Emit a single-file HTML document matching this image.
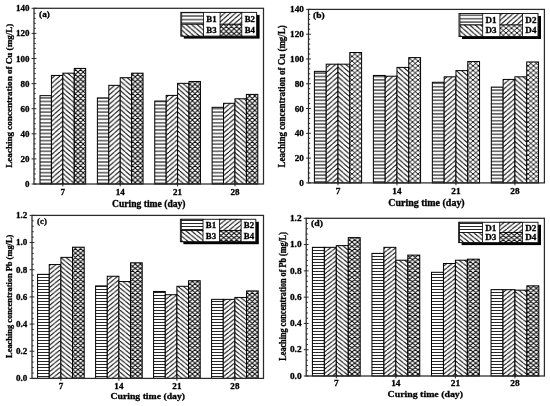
<!DOCTYPE html>
<html><head><meta charset="utf-8"><style>
html,body{margin:0;padding:0;background:#fff;width:550px;height:406px;overflow:hidden}
svg{display:block;filter:blur(0.25px)}
text{font-family:"Liberation Serif",serif;font-weight:bold;fill:#000;stroke:#000;stroke-width:0.3px}
</style></head><body>
<svg width="550" height="406" viewBox="0 0 550 406">
<defs><pattern id="p1a" width="10" height="3.56" patternUnits="userSpaceOnUse"><rect width="10" height="3.56" fill="#fff"/><line x1="0" y1="1.78" x2="10" y2="1.78" stroke="#000" stroke-width="1"/></pattern>
<pattern id="p2a" width="5.45" height="4.75" patternUnits="userSpaceOnUse"><rect width="5.45" height="4.75" fill="#fff"/><path d="M-5.45,4.75L0,0M0,4.75L5.45,0M5.45,4.75L10.9,0" stroke="#000" stroke-width="1.0"/></pattern>
<pattern id="p3a" width="5.45" height="4.75" patternUnits="userSpaceOnUse"><rect width="5.45" height="4.75" fill="#fff"/><path d="M-5.45,0L0,4.75M0,0L5.45,4.75M5.45,0L10.9,4.75" stroke="#000" stroke-width="1.0"/></pattern>
<pattern id="p4a" width="5.2" height="4.8" patternUnits="userSpaceOnUse"><rect width="5.2" height="4.8" fill="#fff"/><path d="M-5.2,4.8L0,0M0,4.8L5.2,0M5.2,4.8L10.4,0M-5.2,0L0,4.8M0,0L5.2,4.8M5.2,0L10.4,4.8" stroke="#000" stroke-width="0.9"/></pattern>
<pattern id="p1b" width="10" height="3.4" patternUnits="userSpaceOnUse"><rect width="10" height="3.4" fill="#fff"/><line x1="0" y1="1.7" x2="10" y2="1.7" stroke="#000" stroke-width="1"/></pattern>
<pattern id="p2b" width="5.45" height="4.8" patternUnits="userSpaceOnUse"><rect width="5.45" height="4.8" fill="#fff"/><path d="M-5.45,4.8L0,0M0,4.8L5.45,0M5.45,4.8L10.9,0" stroke="#000" stroke-width="1.0"/></pattern>
<pattern id="p3b" width="5.45" height="4.8" patternUnits="userSpaceOnUse"><rect width="5.45" height="4.8" fill="#fff"/><path d="M-5.45,0L0,4.8M0,0L5.45,4.8M5.45,0L10.9,4.8" stroke="#000" stroke-width="1.0"/></pattern>
<pattern id="p4b" width="5.5" height="4.7" patternUnits="userSpaceOnUse"><rect width="5.5" height="4.7" fill="#fff"/><path d="M-5.5,4.7L0,0M0,4.7L5.5,0M5.5,4.7L11.0,0M-5.5,0L0,4.7M0,0L5.5,4.7M5.5,0L11.0,4.7" stroke="#000" stroke-width="0.9"/></pattern>
<pattern id="p1c" width="10" height="3.0" patternUnits="userSpaceOnUse"><rect width="10" height="3.0" fill="#fff"/><line x1="0" y1="1.5" x2="10" y2="1.5" stroke="#000" stroke-width="0.85"/></pattern>
<pattern id="p2c" width="5.45" height="4.43" patternUnits="userSpaceOnUse"><rect width="5.45" height="4.43" fill="#fff"/><path d="M-5.45,4.43L0,0M0,4.43L5.45,0M5.45,4.43L10.9,0" stroke="#000" stroke-width="1.0"/></pattern>
<pattern id="p3c" width="5.45" height="4.43" patternUnits="userSpaceOnUse"><rect width="5.45" height="4.43" fill="#fff"/><path d="M-5.45,0L0,4.43M0,0L5.45,4.43M5.45,0L10.9,4.43" stroke="#000" stroke-width="1.0"/></pattern>
<pattern id="p4c" width="5.2" height="4.4" patternUnits="userSpaceOnUse"><rect width="5.2" height="4.4" fill="#fff"/><path d="M-5.2,4.4L0,0M0,4.4L5.2,0M5.2,4.4L10.4,0M-5.2,0L0,4.4M0,0L5.2,4.4M5.2,0L10.4,4.4" stroke="#000" stroke-width="0.9"/></pattern>
<pattern id="p1d" width="10" height="3.0" patternUnits="userSpaceOnUse"><rect width="10" height="3.0" fill="#fff"/><line x1="0" y1="1.5" x2="10" y2="1.5" stroke="#000" stroke-width="0.85"/></pattern>
<pattern id="p2d" width="5.45" height="4.32" patternUnits="userSpaceOnUse"><rect width="5.45" height="4.32" fill="#fff"/><path d="M-5.45,4.32L0,0M0,4.32L5.45,0M5.45,4.32L10.9,0" stroke="#000" stroke-width="1.0"/></pattern>
<pattern id="p3d" width="5.45" height="4.32" patternUnits="userSpaceOnUse"><rect width="5.45" height="4.32" fill="#fff"/><path d="M-5.45,0L0,4.32M0,0L5.45,4.32M5.45,0L10.9,4.32" stroke="#000" stroke-width="1.0"/></pattern>
<pattern id="p4d" width="5.5" height="4.4" patternUnits="userSpaceOnUse"><rect width="5.5" height="4.4" fill="#fff"/><path d="M-5.5,4.4L0,0M0,4.4L5.5,0M5.5,4.4L11.0,0M-5.5,0L0,4.4M0,0L5.5,4.4M5.5,0L11.0,4.4" stroke="#000" stroke-width="0.9"/></pattern></defs>
<rect width="550" height="406" fill="#fff"/>
<rect x="40" y="95.65" width="11.42" height="88.35" fill="url(#p1a)" stroke="#000" stroke-width="1.0"/>
<rect x="51.42" y="75.44" width="11.42" height="108.56" fill="url(#p2a)" stroke="#000" stroke-width="1.0"/>
<rect x="62.84" y="73.18" width="11.42" height="110.82" fill="url(#p3a)" stroke="#000" stroke-width="1.0"/>
<rect x="74.26" y="68.41" width="11.42" height="115.59" fill="url(#p4a)" stroke="#000" stroke-width="1.0"/>
<rect x="97.38" y="97.91" width="11.42" height="86.09" fill="url(#p1a)" stroke="#000" stroke-width="1.0"/>
<rect x="108.8" y="85.36" width="11.42" height="98.64" fill="url(#p2a)" stroke="#000" stroke-width="1.0"/>
<rect x="120.22" y="77.7" width="11.42" height="106.3" fill="url(#p3a)" stroke="#000" stroke-width="1.0"/>
<rect x="131.63" y="73.18" width="11.42" height="110.82" fill="url(#p4a)" stroke="#000" stroke-width="1.0"/>
<rect x="154.75" y="101.04" width="11.42" height="82.96" fill="url(#p1a)" stroke="#000" stroke-width="1.0"/>
<rect x="166.17" y="95.4" width="11.42" height="88.6" fill="url(#p2a)" stroke="#000" stroke-width="1.0"/>
<rect x="177.59" y="83.35" width="11.42" height="100.65" fill="url(#p3a)" stroke="#000" stroke-width="1.0"/>
<rect x="189.01" y="81.47" width="11.42" height="102.53" fill="url(#p4a)" stroke="#000" stroke-width="1.0"/>
<rect x="212.12" y="107.32" width="11.42" height="76.68" fill="url(#p1a)" stroke="#000" stroke-width="1.0"/>
<rect x="223.54" y="103.3" width="11.42" height="80.7" fill="url(#p2a)" stroke="#000" stroke-width="1.0"/>
<rect x="234.97" y="98.79" width="11.42" height="85.21" fill="url(#p3a)" stroke="#000" stroke-width="1.0"/>
<rect x="246.38" y="94.39" width="11.42" height="89.61" fill="url(#p4a)" stroke="#000" stroke-width="1.0"/>
<rect x="34" y="8.3" width="229.5" height="175.7" fill="none" stroke="#2a2a2a" stroke-width="1.25"/>
<text transform="translate(29.4,187) scale(1,1)" text-anchor="end" font-size="9.0">0</text>
<text transform="translate(29.4,161.9) scale(1,1)" text-anchor="end" font-size="9.0">20</text>
<text transform="translate(29.4,136.8) scale(1,1)" text-anchor="end" font-size="9.0">40</text>
<text transform="translate(29.4,111.7) scale(1,1)" text-anchor="end" font-size="9.0">60</text>
<text transform="translate(29.4,86.6) scale(1,1)" text-anchor="end" font-size="9.0">80</text>
<text transform="translate(29.4,61.5) scale(1,1)" text-anchor="end" font-size="9.0">100</text>
<text transform="translate(29.4,36.4) scale(1,1)" text-anchor="end" font-size="9.0">120</text>
<text transform="translate(29.4,11.3) scale(1,1)" text-anchor="end" font-size="9.0">140</text>
<text transform="translate(62.84,194.6) scale(1,1)" text-anchor="middle" font-size="9.0">7</text>
<text transform="translate(120.22,194.6) scale(1,1)" text-anchor="middle" font-size="9.0">14</text>
<text transform="translate(177.59,194.6) scale(1,1)" text-anchor="middle" font-size="9.0">21</text>
<text transform="translate(234.97,194.6) scale(1,1)" text-anchor="middle" font-size="9.0">28</text>
<path d="M31.6,184H36.4M34,178.98H35.7M34,173.96H35.7M34,168.94H35.7M34,163.92H35.7M31.6,158.9H36.4M34,153.88H35.7M34,148.86H35.7M34,143.84H35.7M34,138.82H35.7M31.6,133.8H36.4M34,128.78H35.7M34,123.76H35.7M34,118.74H35.7M34,113.72H35.7M31.6,108.7H36.4M34,103.68H35.7M34,98.66H35.7M34,93.64H35.7M34,88.62H35.7M31.6,83.6H36.4M34,78.58H35.7M34,73.56H35.7M34,68.54H35.7M34,63.52H35.7M31.6,58.5H36.4M34,53.48H35.7M34,48.46H35.7M34,43.44H35.7M34,38.42H35.7M31.6,33.4H36.4M34,28.38H35.7M34,23.36H35.7M34,18.34H35.7M34,13.32H35.7M31.6,8.3H36.4M62.84,181.6V186.4M120.22,181.6V186.4M177.59,181.6V186.4M234.97,181.6V186.4" stroke="#2a2a2a" stroke-width="1" fill="none"/>
<text transform="translate(148.75,207) scale(1,1)" text-anchor="middle" font-size="9.5" textLength="73.5" lengthAdjust="spacingAndGlyphs">Curing time (day)</text>
<text transform="translate(11.6,95.7) rotate(-90) scale(1,1)" text-anchor="middle" font-size="9.1" textLength="144" lengthAdjust="spacingAndGlyphs">Leaching concentration of Cu (mg/L)</text>
<text transform="translate(39.1,16.8) scale(1,1)" font-size="8.8" textLength="10.8" lengthAdjust="spacingAndGlyphs">(a)</text>
<rect x="183.8" y="14.9" width="75.8" height="23.7" fill="#000"/>
<rect x="180.8" y="12.4" width="75.8" height="23.7" fill="#fff" stroke="#222" stroke-width="1"/>
<rect x="181.71" y="12.4" width="21.83" height="11.85" fill="url(#p1a)" stroke="#000" stroke-width="0.8"/>
<text transform="translate(211.5,22.1) scale(1,1)" text-anchor="middle" font-size="8.8">B1</text>
<rect x="220.06" y="12.4" width="21.75" height="11.85" fill="url(#p2a)" stroke="#000" stroke-width="0.8"/>
<text transform="translate(249.78,22.1) scale(1,1)" text-anchor="middle" font-size="8.8">B2</text>
<rect x="181.71" y="24.25" width="21.83" height="11.85" fill="url(#p3a)" stroke="#000" stroke-width="0.8"/>
<text transform="translate(211.5,32.8) scale(1,1)" text-anchor="middle" font-size="8.8">B3</text>
<rect x="220.06" y="24.25" width="21.75" height="11.85" fill="url(#p4a)" stroke="#000" stroke-width="0.8"/>
<text transform="translate(249.78,32.8) scale(1,1)" text-anchor="middle" font-size="8.8">B4</text>
<rect x="314.4" y="71.36" width="11.8" height="111.54" fill="url(#p1b)" stroke="#000" stroke-width="1.0"/>
<rect x="326.2" y="64.18" width="11.8" height="118.72" fill="url(#p2b)" stroke="#000" stroke-width="1.0"/>
<rect x="338" y="64.18" width="11.8" height="118.72" fill="url(#p3b)" stroke="#000" stroke-width="1.0"/>
<rect x="349.8" y="52.53" width="11.8" height="130.37" fill="url(#p4b)" stroke="#000" stroke-width="1.0"/>
<rect x="373.38" y="75.45" width="11.8" height="107.45" fill="url(#p1b)" stroke="#000" stroke-width="1.0"/>
<rect x="385.18" y="76.2" width="11.8" height="106.7" fill="url(#p2b)" stroke="#000" stroke-width="1.0"/>
<rect x="396.98" y="67.4" width="11.8" height="115.5" fill="url(#p3b)" stroke="#000" stroke-width="1.0"/>
<rect x="408.77" y="57.61" width="11.8" height="125.29" fill="url(#p4b)" stroke="#000" stroke-width="1.0"/>
<rect x="432.35" y="82.27" width="11.8" height="100.63" fill="url(#p1b)" stroke="#000" stroke-width="1.0"/>
<rect x="444.15" y="76.82" width="11.8" height="106.08" fill="url(#p2b)" stroke="#000" stroke-width="1.0"/>
<rect x="455.95" y="70.62" width="11.8" height="112.28" fill="url(#p3b)" stroke="#000" stroke-width="1.0"/>
<rect x="467.75" y="61.57" width="11.8" height="121.33" fill="url(#p4b)" stroke="#000" stroke-width="1.0"/>
<rect x="491.32" y="87.1" width="11.8" height="95.8" fill="url(#p1b)" stroke="#000" stroke-width="1.0"/>
<rect x="503.12" y="79.42" width="11.8" height="103.48" fill="url(#p2b)" stroke="#000" stroke-width="1.0"/>
<rect x="514.92" y="76.82" width="11.8" height="106.08" fill="url(#p3b)" stroke="#000" stroke-width="1.0"/>
<rect x="526.72" y="61.95" width="11.8" height="120.95" fill="url(#p4b)" stroke="#000" stroke-width="1.0"/>
<rect x="308.5" y="9.4" width="235.9" height="173.5" fill="none" stroke="#2a2a2a" stroke-width="1.25"/>
<text transform="translate(303.9,185.86) scale(1.03,0.98)" text-anchor="end" font-size="9.0">0</text>
<text transform="translate(303.9,161.07) scale(1.03,0.98)" text-anchor="end" font-size="9.0">20</text>
<text transform="translate(303.9,136.28) scale(1.03,0.98)" text-anchor="end" font-size="9.0">40</text>
<text transform="translate(303.9,111.5) scale(1.03,0.98)" text-anchor="end" font-size="9.0">60</text>
<text transform="translate(303.9,86.71) scale(1.03,0.98)" text-anchor="end" font-size="9.0">80</text>
<text transform="translate(303.9,61.93) scale(1.03,0.98)" text-anchor="end" font-size="9.0">100</text>
<text transform="translate(303.9,37.14) scale(1.03,0.98)" text-anchor="end" font-size="9.0">120</text>
<text transform="translate(303.9,12.36) scale(1.03,0.98)" text-anchor="end" font-size="9.0">140</text>
<text transform="translate(338,193.5) scale(1.03,0.98)" text-anchor="middle" font-size="9.0">7</text>
<text transform="translate(396.98,193.5) scale(1.03,0.98)" text-anchor="middle" font-size="9.0">14</text>
<text transform="translate(455.95,193.5) scale(1.03,0.98)" text-anchor="middle" font-size="9.0">21</text>
<text transform="translate(514.92,193.5) scale(1.03,0.98)" text-anchor="middle" font-size="9.0">28</text>
<path d="M306.1,182.9H310.9M308.5,177.94H310.2M308.5,172.99H310.2M308.5,168.03H310.2M308.5,163.07H310.2M306.1,158.11H310.9M308.5,153.16H310.2M308.5,148.2H310.2M308.5,143.24H310.2M308.5,138.29H310.2M306.1,133.33H310.9M308.5,128.37H310.2M308.5,123.41H310.2M308.5,118.46H310.2M308.5,113.5H310.2M306.1,108.54H310.9M308.5,103.59H310.2M308.5,98.63H310.2M308.5,93.67H310.2M308.5,88.71H310.2M306.1,83.76H310.9M308.5,78.8H310.2M308.5,73.84H310.2M308.5,68.89H310.2M308.5,63.93H310.2M306.1,58.97H310.9M308.5,54.01H310.2M308.5,49.06H310.2M308.5,44.1H310.2M308.5,39.14H310.2M306.1,34.19H310.9M308.5,29.23H310.2M308.5,24.27H310.2M308.5,19.31H310.2M308.5,14.36H310.2M306.1,9.4H310.9M338,180.5V185.3M396.98,180.5V185.3M455.95,180.5V185.3M514.92,180.5V185.3" stroke="#2a2a2a" stroke-width="1" fill="none"/>
<text transform="translate(426.45,205.5) scale(1.03,0.98)" text-anchor="middle" font-size="9.5" textLength="74.22" lengthAdjust="spacingAndGlyphs">Curing time (day)</text>
<text transform="translate(285.4,96.3) rotate(-90) scale(0.98,1.03)" text-anchor="middle" font-size="9.1" textLength="145.08" lengthAdjust="spacingAndGlyphs">Leaching concentration of Cu (mg/L)</text>
<text transform="translate(313.1,18.1) scale(1.03,0.98)" font-size="8.8" textLength="11.28" lengthAdjust="spacingAndGlyphs">(b)</text>
<rect x="462" y="16" width="79" height="23" fill="#000"/>
<rect x="459" y="13.5" width="79" height="23" fill="#fff" stroke="#222" stroke-width="1"/>
<rect x="459.95" y="13.5" width="22.75" height="11.5" fill="url(#p1b)" stroke="#000" stroke-width="0.8"/>
<text transform="translate(491,22.91) scale(1.03,0.98)" text-anchor="middle" font-size="8.8">D1</text>
<rect x="499.92" y="13.5" width="22.67" height="11.5" fill="url(#p2b)" stroke="#000" stroke-width="0.8"/>
<text transform="translate(530.89,22.91) scale(1.03,0.98)" text-anchor="middle" font-size="8.8">D2</text>
<rect x="459.95" y="25" width="22.75" height="11.5" fill="url(#p3b)" stroke="#000" stroke-width="0.8"/>
<text transform="translate(491,33.3) scale(1.03,0.98)" text-anchor="middle" font-size="8.8">D3</text>
<rect x="499.92" y="25" width="22.67" height="11.5" fill="url(#p4b)" stroke="#000" stroke-width="0.8"/>
<text transform="translate(530.89,33.3) scale(1.03,0.98)" text-anchor="middle" font-size="8.8">D4</text>
<rect x="37.6" y="274.35" width="11.65" height="104.05" fill="url(#p1c)" stroke="#000" stroke-width="1.0"/>
<rect x="49.25" y="264.57" width="11.65" height="113.83" fill="url(#p2c)" stroke="#000" stroke-width="1.0"/>
<rect x="60.9" y="257.37" width="11.65" height="121.03" fill="url(#p3c)" stroke="#000" stroke-width="1.0"/>
<rect x="72.55" y="247.19" width="11.65" height="131.21" fill="url(#p4c)" stroke="#000" stroke-width="1.0"/>
<rect x="95.6" y="285.9" width="11.65" height="92.5" fill="url(#p1c)" stroke="#000" stroke-width="1.0"/>
<rect x="107.25" y="276.25" width="11.65" height="102.15" fill="url(#p2c)" stroke="#000" stroke-width="1.0"/>
<rect x="118.9" y="281.55" width="11.65" height="96.85" fill="url(#p3c)" stroke="#000" stroke-width="1.0"/>
<rect x="130.55" y="262.81" width="11.65" height="115.59" fill="url(#p4c)" stroke="#000" stroke-width="1.0"/>
<rect x="153.6" y="291.47" width="11.65" height="86.93" fill="url(#p1c)" stroke="#000" stroke-width="1.0"/>
<rect x="165.25" y="294.73" width="11.65" height="83.67" fill="url(#p2c)" stroke="#000" stroke-width="1.0"/>
<rect x="176.9" y="286.3" width="11.65" height="92.1" fill="url(#p3c)" stroke="#000" stroke-width="1.0"/>
<rect x="188.55" y="280.74" width="11.65" height="97.66" fill="url(#p4c)" stroke="#000" stroke-width="1.0"/>
<rect x="211.6" y="299.35" width="11.65" height="79.05" fill="url(#p1c)" stroke="#000" stroke-width="1.0"/>
<rect x="223.25" y="299.35" width="11.65" height="79.05" fill="url(#p2c)" stroke="#000" stroke-width="1.0"/>
<rect x="234.9" y="297.44" width="11.65" height="80.96" fill="url(#p3c)" stroke="#000" stroke-width="1.0"/>
<rect x="246.55" y="290.92" width="11.65" height="87.48" fill="url(#p4c)" stroke="#000" stroke-width="1.0"/>
<rect x="32" y="215.4" width="231.5" height="163" fill="none" stroke="#2a2a2a" stroke-width="1.25"/>
<text transform="translate(27.4,381.18) scale(1.01,0.93)" text-anchor="end" font-size="9.0">0.0</text>
<text transform="translate(27.4,354.01) scale(1.01,0.93)" text-anchor="end" font-size="9.0">0.2</text>
<text transform="translate(27.4,326.85) scale(1.01,0.93)" text-anchor="end" font-size="9.0">0.4</text>
<text transform="translate(27.4,299.68) scale(1.01,0.93)" text-anchor="end" font-size="9.0">0.6</text>
<text transform="translate(27.4,272.51) scale(1.01,0.93)" text-anchor="end" font-size="9.0">0.8</text>
<text transform="translate(27.4,245.35) scale(1.01,0.93)" text-anchor="end" font-size="9.0">1.0</text>
<text transform="translate(27.4,218.18) scale(1.01,0.93)" text-anchor="end" font-size="9.0">1.2</text>
<text transform="translate(60.9,388.7) scale(1.01,0.93)" text-anchor="middle" font-size="9.0">7</text>
<text transform="translate(118.9,388.7) scale(1.01,0.93)" text-anchor="middle" font-size="9.0">14</text>
<text transform="translate(176.9,388.7) scale(1.01,0.93)" text-anchor="middle" font-size="9.0">21</text>
<text transform="translate(234.9,388.7) scale(1.01,0.93)" text-anchor="middle" font-size="9.0">28</text>
<path d="M29.6,378.4H34.4M32,372.97H33.7M32,367.53H33.7M32,362.1H33.7M32,356.67H33.7M29.6,351.23H34.4M32,345.8H33.7M32,340.37H33.7M32,334.93H33.7M32,329.5H33.7M29.6,324.07H34.4M32,318.63H33.7M32,313.2H33.7M32,307.77H33.7M32,302.33H33.7M29.6,296.9H34.4M32,291.47H33.7M32,286.03H33.7M32,280.6H33.7M32,275.17H33.7M29.6,269.73H34.4M32,264.3H33.7M32,258.87H33.7M32,253.43H33.7M32,248H33.7M29.6,242.57H34.4M32,237.13H33.7M32,231.7H33.7M32,226.27H33.7M32,220.83H33.7M29.6,215.4H34.4M60.9,376V380.8M118.9,376V380.8M176.9,376V380.8M234.9,376V380.8" stroke="#2a2a2a" stroke-width="1" fill="none"/>
<text transform="translate(147.75,399.3) scale(1.01,0.93)" text-anchor="middle" font-size="9.5" textLength="73.93" lengthAdjust="spacingAndGlyphs">Curing time (day)</text>
<text transform="translate(11.8,296.3) rotate(-90) scale(0.93,1.01)" text-anchor="middle" font-size="9.1" textLength="132.47" lengthAdjust="spacingAndGlyphs">Leaching concentration Pb (mg/L)</text>
<text transform="translate(37.1,223.5) scale(1.01,0.93)" font-size="8.8" textLength="9.91" lengthAdjust="spacingAndGlyphs">(c)</text>
<rect x="183.4" y="221.8" width="75.4" height="22.4" fill="#000"/>
<rect x="180.4" y="219.3" width="75.4" height="22.4" fill="#fff" stroke="#222" stroke-width="1"/>
<rect x="181.3" y="219.3" width="21.72" height="11.2" fill="url(#p1c)" stroke="#000" stroke-width="0.8"/>
<text transform="translate(210.94,228.47) scale(1.01,0.93)" text-anchor="middle" font-size="8.8">B1</text>
<rect x="219.46" y="219.3" width="21.64" height="11.2" fill="url(#p2c)" stroke="#000" stroke-width="0.8"/>
<text transform="translate(249.01,228.47) scale(1.01,0.93)" text-anchor="middle" font-size="8.8">B2</text>
<rect x="181.3" y="230.5" width="21.72" height="11.2" fill="url(#p3c)" stroke="#000" stroke-width="0.8"/>
<text transform="translate(210.94,238.58) scale(1.01,0.93)" text-anchor="middle" font-size="8.8">B3</text>
<rect x="219.46" y="230.5" width="21.64" height="11.2" fill="url(#p4c)" stroke="#000" stroke-width="0.8"/>
<text transform="translate(249.01,238.58) scale(1.01,0.93)" text-anchor="middle" font-size="8.8">B4</text>
<rect x="312.4" y="247.34" width="11.95" height="128.66" fill="url(#p1d)" stroke="#000" stroke-width="1.0"/>
<rect x="324.35" y="247.34" width="11.95" height="128.66" fill="url(#p2d)" stroke="#000" stroke-width="1.0"/>
<rect x="336.3" y="245.63" width="11.95" height="130.37" fill="url(#p3d)" stroke="#000" stroke-width="1.0"/>
<rect x="348.25" y="237.62" width="11.95" height="138.38" fill="url(#p4d)" stroke="#000" stroke-width="1.0"/>
<rect x="371.95" y="253.39" width="11.95" height="122.61" fill="url(#p1d)" stroke="#000" stroke-width="1.0"/>
<rect x="383.9" y="247.34" width="11.95" height="128.66" fill="url(#p2d)" stroke="#000" stroke-width="1.0"/>
<rect x="395.85" y="260.22" width="11.95" height="115.78" fill="url(#p3d)" stroke="#000" stroke-width="1.0"/>
<rect x="407.8" y="255.1" width="11.95" height="120.9" fill="url(#p4d)" stroke="#000" stroke-width="1.0"/>
<rect x="431.5" y="272.31" width="11.95" height="103.69" fill="url(#p1d)" stroke="#000" stroke-width="1.0"/>
<rect x="443.45" y="263.51" width="11.95" height="112.49" fill="url(#p2d)" stroke="#000" stroke-width="1.0"/>
<rect x="455.4" y="260.22" width="11.95" height="115.78" fill="url(#p3d)" stroke="#000" stroke-width="1.0"/>
<rect x="467.35" y="259.17" width="11.95" height="116.83" fill="url(#p4d)" stroke="#000" stroke-width="1.0"/>
<rect x="491.05" y="289.66" width="11.95" height="86.34" fill="url(#p1d)" stroke="#000" stroke-width="1.0"/>
<rect x="503" y="289.66" width="11.95" height="86.34" fill="url(#p2d)" stroke="#000" stroke-width="1.0"/>
<rect x="514.95" y="290.18" width="11.95" height="85.82" fill="url(#p3d)" stroke="#000" stroke-width="1.0"/>
<rect x="526.9" y="285.85" width="11.95" height="90.15" fill="url(#p4d)" stroke="#000" stroke-width="1.0"/>
<rect x="306.2" y="218.3" width="238.2" height="157.7" fill="none" stroke="#2a2a2a" stroke-width="1.25"/>
<text transform="translate(301.6,378.69) scale(1.04,0.9)" text-anchor="end" font-size="9.0">0.0</text>
<text transform="translate(301.6,352.41) scale(1.04,0.9)" text-anchor="end" font-size="9.0">0.2</text>
<text transform="translate(301.6,326.13) scale(1.04,0.9)" text-anchor="end" font-size="9.0">0.4</text>
<text transform="translate(301.6,299.84) scale(1.04,0.9)" text-anchor="end" font-size="9.0">0.6</text>
<text transform="translate(301.6,273.56) scale(1.04,0.9)" text-anchor="end" font-size="9.0">0.8</text>
<text transform="translate(301.6,247.28) scale(1.04,0.9)" text-anchor="end" font-size="9.0">1.0</text>
<text transform="translate(301.6,220.99) scale(1.04,0.9)" text-anchor="end" font-size="9.0">1.2</text>
<text transform="translate(336.3,386.3) scale(1.04,0.9)" text-anchor="middle" font-size="9.0">7</text>
<text transform="translate(395.85,386.3) scale(1.04,0.9)" text-anchor="middle" font-size="9.0">14</text>
<text transform="translate(455.4,386.3) scale(1.04,0.9)" text-anchor="middle" font-size="9.0">21</text>
<text transform="translate(514.95,386.3) scale(1.04,0.9)" text-anchor="middle" font-size="9.0">28</text>
<path d="M303.8,376H308.6M306.2,370.74H307.9M306.2,365.49H307.9M306.2,360.23H307.9M306.2,354.97H307.9M303.8,349.72H308.6M306.2,344.46H307.9M306.2,339.2H307.9M306.2,333.95H307.9M306.2,328.69H307.9M303.8,323.43H308.6M306.2,318.18H307.9M306.2,312.92H307.9M306.2,307.66H307.9M306.2,302.41H307.9M303.8,297.15H308.6M306.2,291.89H307.9M306.2,286.64H307.9M306.2,281.38H307.9M306.2,276.12H307.9M303.8,270.87H308.6M306.2,265.61H307.9M306.2,260.35H307.9M306.2,255.1H307.9M306.2,249.84H307.9M303.8,244.58H308.6M306.2,239.33H307.9M306.2,234.07H307.9M306.2,228.81H307.9M306.2,223.56H307.9M303.8,218.3H308.6M336.3,373.6V378.4M395.85,373.6V378.4M455.4,373.6V378.4M514.95,373.6V378.4" stroke="#2a2a2a" stroke-width="1" fill="none"/>
<text transform="translate(425.3,396.8) scale(1.04,0.9)" text-anchor="middle" font-size="9.5" textLength="72.64" lengthAdjust="spacingAndGlyphs">Curing time (day)</text>
<text transform="translate(285.8,296.35) rotate(-90) scale(0.9,1.04)" text-anchor="middle" font-size="9.1" textLength="142.87" lengthAdjust="spacingAndGlyphs">Leaching concentration of Pb (mg/L)</text>
<text transform="translate(311.1,226.2) scale(1.04,0.9)" font-size="8.8" textLength="11.46" lengthAdjust="spacingAndGlyphs">(d)</text>
<rect x="461.6" y="224.8" width="79.4" height="20.3" fill="#000"/>
<rect x="458.6" y="222.3" width="79.4" height="20.3" fill="#fff" stroke="#222" stroke-width="1"/>
<rect x="459.55" y="222.3" width="22.87" height="10.15" fill="url(#p1d)" stroke="#000" stroke-width="0.8"/>
<text transform="translate(490.76,230.61) scale(1.04,0.9)" text-anchor="middle" font-size="8.8">D1</text>
<rect x="499.73" y="222.3" width="22.79" height="10.15" fill="url(#p2d)" stroke="#000" stroke-width="0.8"/>
<text transform="translate(530.85,230.61) scale(1.04,0.9)" text-anchor="middle" font-size="8.8">D2</text>
<rect x="459.55" y="232.45" width="22.87" height="10.15" fill="url(#p3d)" stroke="#000" stroke-width="0.8"/>
<text transform="translate(490.76,239.77) scale(1.04,0.9)" text-anchor="middle" font-size="8.8">D3</text>
<rect x="499.73" y="232.45" width="22.79" height="10.15" fill="url(#p4d)" stroke="#000" stroke-width="0.8"/>
<text transform="translate(530.85,239.77) scale(1.04,0.9)" text-anchor="middle" font-size="8.8">D4</text>
</svg>
</body></html>
